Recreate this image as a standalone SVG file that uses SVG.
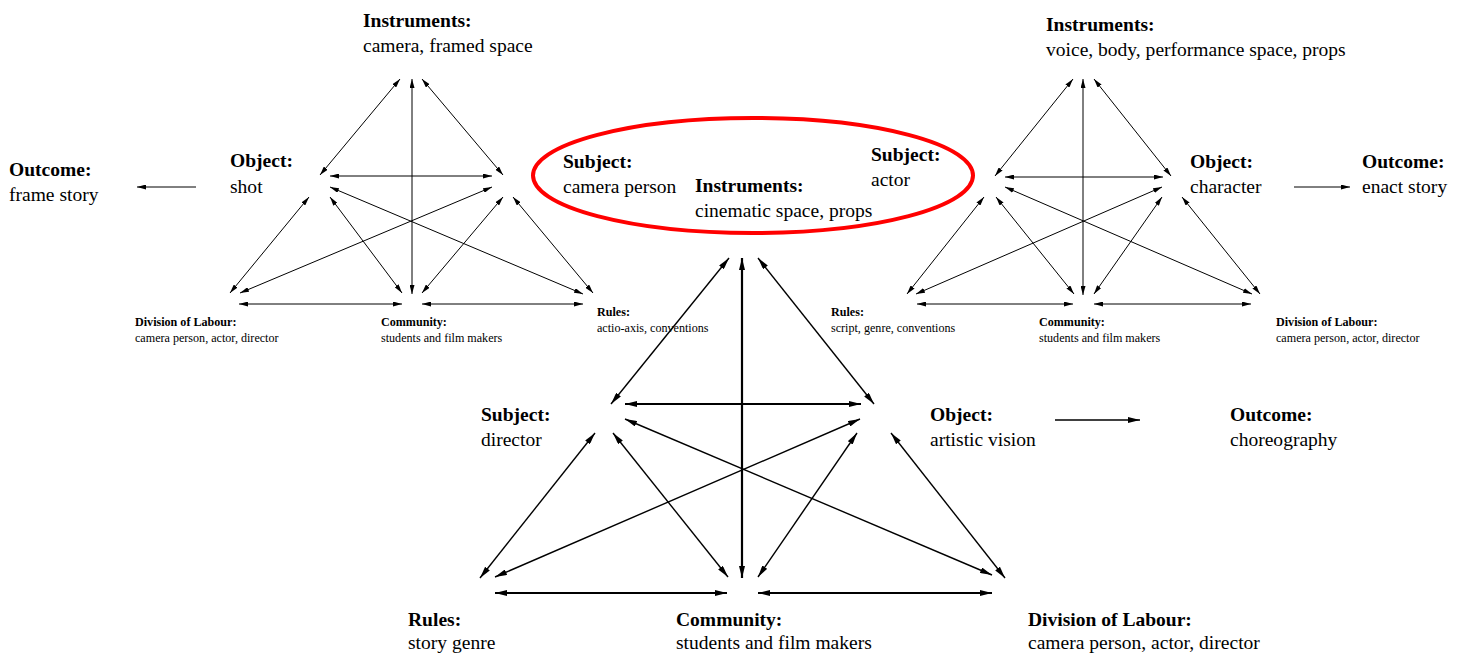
<svg xmlns="http://www.w3.org/2000/svg" width="1462" height="653" viewBox="0 0 1462 653">
<style>
text{font-family:"Liberation Serif","Times New Roman",serif;fill:#000}
.b{font-weight:bold}
.L{font-size:19.55px}
.S{font-size:12.1px}
.t line{stroke:#000;stroke-width:1;marker-start:url(#sa);marker-end:url(#sa)}
.t line.o{marker-start:none}
.m line{stroke:#000;stroke-width:1.4;marker-start:url(#ba);marker-end:url(#ba)}
.m line.h{stroke-width:2.2}
.m line.o{marker-start:none}
</style>
<defs>
<marker id="sa" viewBox="0 0 9 5" refX="9" refY="2.5" markerUnits="userSpaceOnUse" markerWidth="9" markerHeight="5" orient="auto-start-reverse"><path d="M0,0 L9,2.5 L0,5 z" fill="#000"/></marker>
<marker id="ba" viewBox="0 0 12 6" refX="12" refY="3" markerUnits="userSpaceOnUse" markerWidth="12" markerHeight="6" orient="auto-start-reverse"><path d="M0,0 L12,3 L0,6 z" fill="#000"/></marker>
</defs>
<rect width="1462" height="653" fill="#fff"/>
<g id="connectors">
<g class="t">
<line x1="412" y1="79" x2="412" y2="294"/>
<line x1="400" y1="79" x2="320" y2="175"/>
<line x1="422" y1="79" x2="503" y2="175"/>
<line x1="330" y1="176" x2="492" y2="176"/>
<line x1="330" y1="187" x2="583" y2="294"/>
<line x1="492" y1="187" x2="240" y2="293"/>
<line x1="309" y1="197" x2="230" y2="293"/>
<line x1="330" y1="197" x2="402" y2="293"/>
<line x1="503" y1="197" x2="422" y2="293"/>
<line x1="513" y1="197" x2="593" y2="293"/>
<line x1="239" y1="304" x2="402" y2="304"/>
<line x1="422" y1="304" x2="583" y2="304"/>
<line class="o" x1="196" y1="187" x2="137" y2="187"/>
<line x1="1083" y1="79" x2="1083" y2="295"/>
<line x1="1073" y1="79" x2="995" y2="176"/>
<line x1="1094" y1="79" x2="1171" y2="176"/>
<line x1="1005" y1="177" x2="1163" y2="177"/>
<line x1="1005" y1="187" x2="1252" y2="294"/>
<line x1="1162" y1="187" x2="916" y2="294"/>
<line x1="984" y1="197" x2="907" y2="294"/>
<line x1="996" y1="197" x2="1074" y2="294"/>
<line x1="1162" y1="197" x2="1094" y2="294"/>
<line x1="1182" y1="197" x2="1260" y2="294"/>
<line x1="917" y1="304" x2="1073" y2="304"/>
<line x1="1094" y1="304" x2="1251" y2="304"/>
<line class="o" x1="1294" y1="187" x2="1350" y2="187"/>
</g>
<g class="m">
<line class="h" x1="742" y1="258" x2="742" y2="578"/>
<line x1="729" y1="258" x2="611" y2="404"/>
<line x1="758" y1="258" x2="874" y2="404"/>
<line class="h" x1="625" y1="404" x2="861" y2="404"/>
<line x1="625" y1="419" x2="992" y2="575"/>
<line x1="860" y1="419" x2="495" y2="577"/>
<line x1="595" y1="433" x2="480" y2="578"/>
<line x1="613" y1="433" x2="728" y2="577"/>
<line x1="857" y1="433" x2="758" y2="577"/>
<line x1="891" y1="433" x2="1005" y2="578"/>
<line class="h" x1="495" y1="593" x2="727" y2="593"/>
<line class="h" x1="758" y1="593" x2="992" y2="593"/>
<line class="o" x1="1055" y1="420" x2="1140" y2="420"/>
</g>
</g>
<g id="shared-ellipse">
<ellipse cx="753" cy="175.5" rx="220" ry="57.5" fill="none" stroke="#f00" stroke-width="4"/>
</g>
<g id="subject-camera"><text class="b L" x="563" y="168">Subject:</text><text class="L" x="563" y="193">camera person</text></g>
<g id="instruments-shared"><text class="b L" x="695" y="192">Instruments:</text><text class="L" x="695" y="217">cinematic space, props</text></g>
<g id="subject-actor"><text class="b L" x="871" y="161">Subject:</text><text class="L" x="871" y="186">actor</text></g>
<g id="left-instruments"><text class="b L" x="363" y="27">Instruments:</text><text class="L" x="363" y="52">camera, framed space</text></g>
<g id="left-object"><text class="b L" x="230" y="167">Object:</text><text class="L" x="230" y="193">shot</text></g>
<g id="left-outcome"><text class="b L" x="9" y="176">Outcome:</text><text class="L" x="9" y="201">frame story</text></g>
<g id="left-division"><text class="b S" x="135" y="326">Division of Labour:</text><text class="S" x="135" y="342">camera person, actor, director</text></g>
<g id="left-community"><text class="b S" x="381" y="326">Community:</text><text class="S" x="381" y="342">students and film makers</text></g>
<g id="left-rules"><text class="b S" x="597" y="316">Rules:</text><text class="S" x="597" y="332">actio-axis, conventions</text></g>
<g id="right-instruments"><text class="b L" x="1046" y="31">Instruments:</text><text class="L" x="1046" y="56">voice, body, performance space, props</text></g>
<g id="right-object"><text class="b L" x="1190" y="168">Object:</text><text class="L" x="1190" y="193">character</text></g>
<g id="right-outcome"><text class="b L" x="1362" y="168">Outcome:</text><text class="L" x="1362" y="193">enact story</text></g>
<g id="right-rules"><text class="b S" x="831" y="316">Rules:</text><text class="S" x="831" y="332">script, genre, conventions</text></g>
<g id="right-community"><text class="b S" x="1039" y="326">Community:</text><text class="S" x="1039" y="342">students and film makers</text></g>
<g id="right-division"><text class="b S" x="1276" y="326">Division of Labour:</text><text class="S" x="1276" y="342">camera person, actor, director</text></g>
<g id="bottom-subject"><text class="b L" x="481" y="421">Subject:</text><text class="L" x="481" y="446">director</text></g>
<g id="bottom-object"><text class="b L" x="930" y="421">Object:</text><text class="L" x="930" y="446">artistic vision</text></g>
<g id="bottom-outcome"><text class="b L" x="1230" y="421">Outcome:</text><text class="L" x="1230" y="446">choreography</text></g>
<g id="bottom-rules"><text class="b L" x="408" y="626">Rules:</text><text class="L" x="408" y="649">story genre</text></g>
<g id="bottom-community"><text class="b L" x="676" y="626">Community:</text><text class="L" x="676" y="649">students and film makers</text></g>
<g id="bottom-division"><text class="b L" x="1028" y="626">Division of Labour:</text><text class="L" x="1028" y="649">camera person, actor, director</text></g>
</svg>
